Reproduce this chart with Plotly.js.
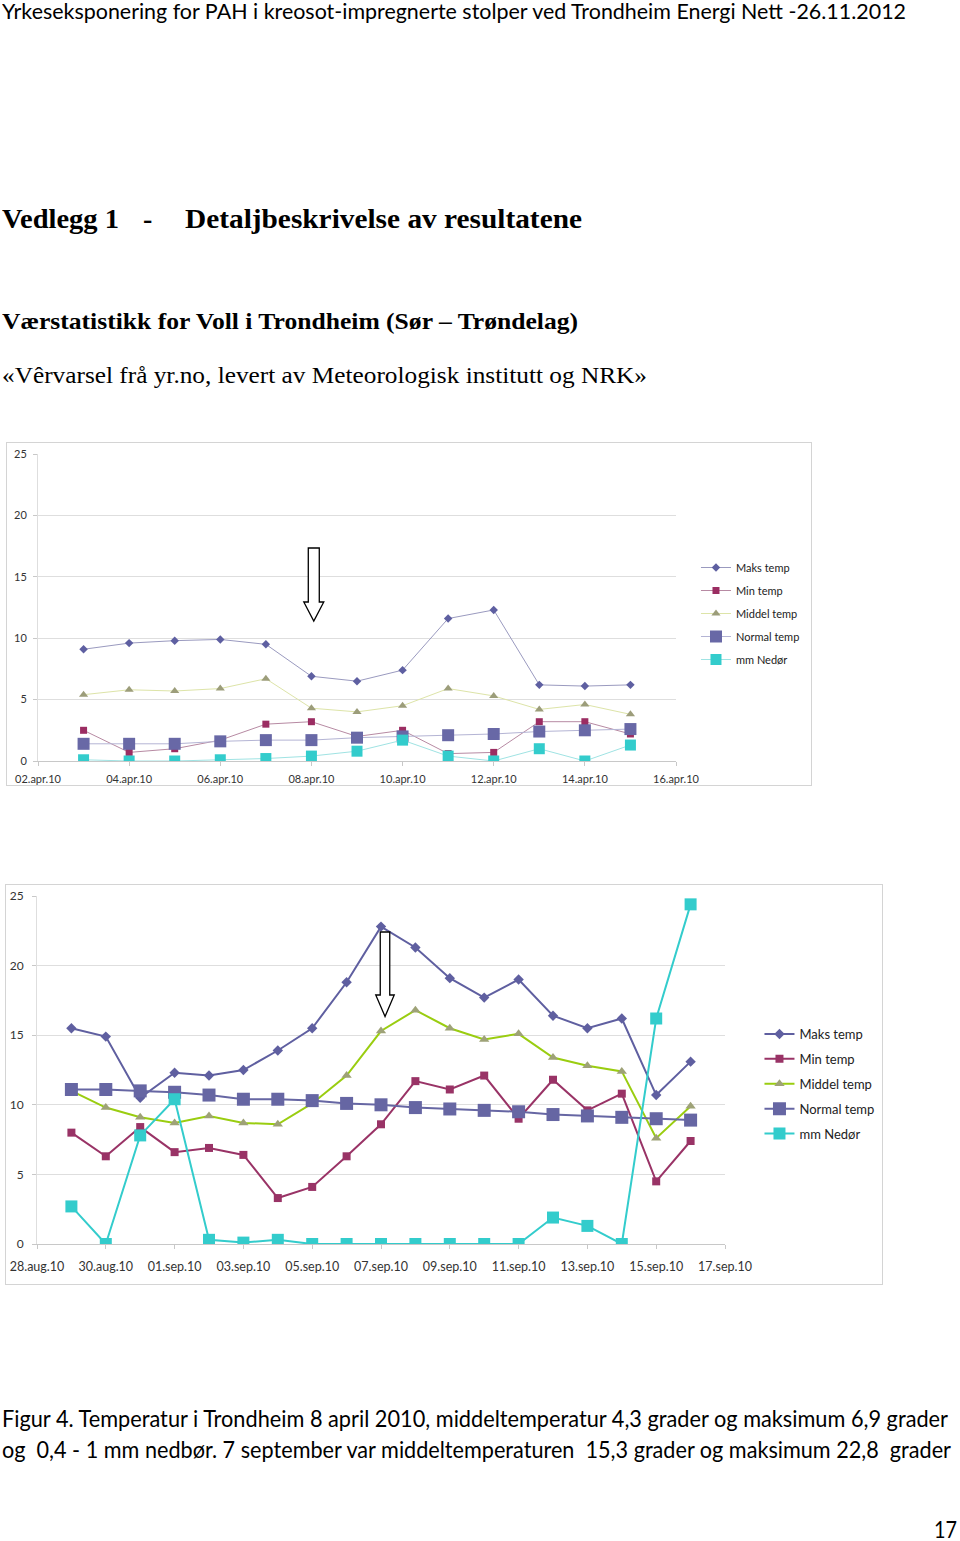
<!DOCTYPE html>
<html>
<head>
<meta charset="utf-8">
<script src="https://cdn.plot.ly/plotly-3.0.1.min.js"></script>
<style>
  html, body { margin: 0; padding: 0; background: #fff; }
  body { width: 960px; height: 1541px; position: relative; overflow: hidden; }
  .t { position: absolute; white-space: nowrap; line-height: 1; color: #000; transform-origin: 0 0; }
  .sans { font-family: Lato, "Open Sans", sans-serif; }
  .serif { font-family: "Liberation Serif", "DejaVu Serif", serif; }
  .frame { position: absolute; border: 1px solid #d4d4d4; box-sizing: border-box; background: #fff; }
  .plot { position: absolute; left: 0; top: 0; }
</style>
</head>
<body>
<div class="t sans" style="left:2px; top:0px; font-size:22px;" data-w="904">Yrkeseksponering for PAH i kreosot-impregnerte stolper ved Trondheim Energi Nett -26.11.2012</div>

<div class="t serif" style="left:2px; top:205px; font-size:28px; font-weight:bold;" data-w="117">Vedlegg 1</div>
<div class="t serif" style="left:143px; top:205px; font-size:28px; font-weight:bold;">-</div>
<div class="t serif" style="left:185px; top:205px; font-size:28px; font-weight:bold;" data-w="397">Detaljbeskrivelse av resultatene</div>

<div class="t serif" style="left:2px; top:309px; font-size:24px; font-weight:bold;" data-w="576">Værstatistikk for Voll i Trondheim (Sør – Trøndelag)</div>
<div class="t serif" style="left:2px; top:363px; font-size:24px;" data-w="645">«Vêrvarsel frå yr.no, levert av Meteorologisk institutt og NRK»</div>

<div class="frame" style="left:6px; top:442px; width:806px; height:344px;"><div id="c1" class="plot"></div></div>
<div class="frame" style="left:5px; top:884px; width:878px; height:401px;"><div id="c2" class="plot"></div></div>

<div class="t sans" style="left:2px; top:1406px; font-size:24px;" data-w="946">Figur 4. Temperatur i Trondheim 8 april 2010, middeltemperatur 4,3 grader og maksimum 6,9 grader</div>
<div class="t sans" style="left:2px; top:1437px; font-size:24px; white-space:pre;" data-w="949">og  0,4 - 1 mm nedbør. 7 september var middeltemperaturen  15,3 grader og maksimum 22,8  grader</div>
<div class="t sans" style="left:934px; top:1517px; font-size:24px;" data-w="23">17</div>

<script>
// ---------------- data: chart 1 (April 2010) ----------------
const dates1 = ['2010-04-03','2010-04-04','2010-04-05','2010-04-06','2010-04-07','2010-04-08','2010-04-09',
                '2010-04-10','2010-04-11','2010-04-12','2010-04-13','2010-04-14','2010-04-15'];
const maks1   = [9.1, 9.6, 9.8, 9.9, 9.5, 6.9, 6.5, 7.4, 11.6, 12.3, 6.2, 6.1, 6.2];
const min1    = [2.5, 0.7, 1.0, 1.7, 3.0, 3.2, 2.0, 2.5, 0.6, 0.7, 3.2, 3.2, 2.2];
const middel1 = [5.4, 5.8, 5.7, 5.9, 6.7, 4.3, 4.0, 4.5, 5.9, 5.3, 4.2, 4.6, 3.8];
const normal1 = [1.4, 1.4, 1.4, 1.6, 1.7, 1.7, 1.9, 2.0, 2.1, 2.2, 2.4, 2.5, 2.6];
const nedor1  = [0.1, 0.0, 0.0, 0.1, 0.2, 0.4, 0.8, 1.7, 0.4, 0.0, 1.0, 0.0, 1.3];
const tickvals1 = ['2010-04-02','2010-04-04','2010-04-06','2010-04-08','2010-04-10','2010-04-12','2010-04-14','2010-04-16'];
const ticktext1 = ['02.apr.10','04.apr.10','06.apr.10','08.apr.10','10.apr.10','12.apr.10','14.apr.10','16.apr.10'];

// ---------------- data: chart 2 (Aug-Sep 2010) ----------------
const dates2 = ['2010-08-29','2010-08-30','2010-08-31','2010-09-01','2010-09-02','2010-09-03','2010-09-04',
                '2010-09-05','2010-09-06','2010-09-07','2010-09-08','2010-09-09','2010-09-10','2010-09-11',
                '2010-09-12','2010-09-13','2010-09-14','2010-09-15','2010-09-16'];
const maks2   = [15.5, 14.9, 10.5, 12.3, 12.1, 12.5, 13.9, 15.5, 18.8, 22.8, 21.3, 19.1, 17.7, 19.0, 16.4, 15.5, 16.2, 10.7, 13.1];
const min2    = [8.0, 6.3, 8.4, 6.6, 6.9, 6.4, 3.3, 4.1, 6.3, 8.6, 11.7, 11.1, 12.1, 9.0, 11.8, 9.6, 10.8, 4.5, 7.4];
const middel2 = [11.0, 9.8, 9.1, 8.7, 9.2, 8.7, 8.6, 10.1, 12.1, 15.3, 16.8, 15.5, 14.7, 15.1, 13.4, 12.8, 12.4, 7.6, 9.9];
const normal2 = [11.1, 11.1, 11.0, 10.9, 10.7, 10.4, 10.4, 10.3, 10.1, 10.0, 9.8, 9.7, 9.6, 9.5, 9.3, 9.2, 9.1, 9.0, 8.9];
const nedor2  = [2.7, 0.0, 7.8, 10.4, 0.3, 0.1, 0.3, 0.0, 0.0, 0.0, 0.0, 0.0, 0.0, 0.0, 1.9, 1.3, 0.0, 16.2, 24.4];
const tickvals2 = ['2010-08-28','2010-08-30','2010-09-01','2010-09-03','2010-09-05','2010-09-07','2010-09-09',
                   '2010-09-11','2010-09-13','2010-09-15','2010-09-17'];
const ticktext2 = ['28.aug.10','30.aug.10','01.sep.10','03.sep.10','05.sep.10','07.sep.10','09.sep.10',
                   '11.sep.10','13.sep.10','15.sep.10','17.sep.10'];

const seriesNames = ['Maks temp','Min temp','Middel temp','Normal temp','mm Nedør'];
const yTicks = [0, 5, 10, 15, 20, 25];

// fit text widths
document.querySelectorAll('[data-w]').forEach(el => {
  const w = el.getBoundingClientRect().width;
  const target = parseFloat(el.getAttribute('data-w'));
  el.style.transform = 'scaleX(' + (target / w) + ')';
});

const FONT = 'Lato, "Open Sans", sans-serif';

function mkTrace(x, y, name, i, lineColor, lineWidth, mColor, mSymbol, mSize) {
  return {
    type: 'scatter', mode: 'lines+markers', x: x, y: y, name: name,
    legendgroup: 'g' + i,
    line: { color: lineColor, width: lineWidth },
    marker: { color: mColor, symbol: mSymbol, size: mSize, line: { width: 0 } },
    hoverinfo: 'skip'
  };
}

// ---------- chart 1 ----------
(function () {
  const W = 804, H = 342;
  const L = 30.5, R = 135, T = 11, B = 24;
  const pw = W - L - R, ph = H - T - B;
  const colors = {
    maksM: '#5e5fa1', maksL: '#9a9abf',
    minM: '#9b2d62', minL: '#b78aa3',
    midM: '#9c9d7a', midL: '#dde4a8',
    norM: '#6868a6', norL: '#b4b4d4',
    nedM: '#33cccc', nedL: '#9fe3e3'
  };
  const traces = [
    mkTrace(dates1, maks1, seriesNames[0], 0, colors.maksL, 1, colors.maksM, 'diamond', 6.5),
    mkTrace(dates1, min1, seriesNames[1], 1, colors.minL, 1, colors.minM, 'square', 7),
    mkTrace(dates1, middel1, seriesNames[2], 2, colors.midL, 1, colors.midM, 'triangle-up', 8),
    mkTrace(dates1, normal1, seriesNames[3], 3, colors.norL, 1, colors.norM, 'square', 12),
    mkTrace(dates1, nedor1, seriesNames[4], 4, colors.nedL, 1, colors.nedM, 'square', 11)
  ];
  const ox = 7, oy = 443;
  const px = x => (x - ox - L) / pw;
  const py = y => 1 - (y - oy - T) / ph;
  const pts = [[308,548],[319,548],[319,602],[323.5,602],[313.5,621],[303.5,602],[308,602]];
  const path = 'M ' + pts.map(p => px(p[0]).toFixed(5) + ',' + py(p[1]).toFixed(5)).join(' L ') + ' Z';
  const layout = {
    width: W, height: H,
    margin: { l: L, r: R, t: T, b: B, pad: 0, autoexpand: false },
    paper_bgcolor: '#fff', plot_bgcolor: '#fff',
    font: { family: FONT, size: 11, color: '#333' },
    showlegend: true,
    legend: { x: (696 - ox - L) / pw, xanchor: 'left', y: py(553), yanchor: 'top',
              font: { family: FONT, size: 11, color: '#222' }, tracegroupgap: 4,
              bgcolor: 'rgba(0,0,0,0)', borderwidth: 0, itemwidth: 30 },
    xaxis: {
      type: 'date', range: ['2010-04-02', '2010-04-16'],
      tickmode: 'array', tickvals: tickvals1, ticktext: ticktext1,
      showgrid: false, zeroline: false, showline: true, linecolor: '#c8c8c8', linewidth: 1,
      ticks: 'outside', ticklen: 4, tickcolor: '#c8c8c8', ticklabelstandoff: 4,
      tickfont: { family: FONT, size: 11, color: '#333' }
    },
    yaxis: {
      range: [0, 25], tickmode: 'array', tickvals: yTicks,
      showgrid: true, gridcolor: '#dedede', gridwidth: 1, zeroline: false,
      showline: true, linecolor: '#dedede', ticks: 'outside', ticklen: 4, tickcolor: '#c8c8c8',
      ticklabelstandoff: 4,
      tickfont: { family: FONT, size: 11, color: '#333' }
    },
    shapes: [{ type: 'path', xref: 'paper', yref: 'paper', path: path,
               fillcolor: '#fff', line: { color: '#000', width: 1.3 } }]
  };
  Plotly.newPlot('c1', traces, layout, { displayModeBar: false, staticPlot: true });
})();

// ---------- chart 2 ----------
(function () {
  const W = 876, H = 399;
  const L = 31, R = 156.5, T = 11, B = 40;
  const pw = W - L - R, ph = H - T - B;
  const c = {
    maks: '#5f5fa0', min: '#993366', midL: '#9acd10', midM: '#9ea277', nor: '#6666a3', ned: '#33cccc'
  };
  const traces = [
    mkTrace(dates2, maks2, seriesNames[0], 0, c.maks, 2, c.maks, 'diamond', 8),
    mkTrace(dates2, min2, seriesNames[1], 1, c.min, 2, c.min, 'square', 8),
    mkTrace(dates2, middel2, seriesNames[2], 2, c.midL, 2, c.midM, 'triangle-up', 9),
    mkTrace(dates2, normal2, seriesNames[3], 3, c.nor, 2, c.nor, 'square', 13),
    mkTrace(dates2, nedor2, seriesNames[4], 4, c.ned, 2, c.ned, 'square', 12)
  ];
  const ox = 6, oy = 885;
  const px = x => (x - ox - L) / pw;
  const py = y => 1 - (y - oy - T) / ph;
  const pts = [[380.5,932],[390,932],[390,995],[394.5,995],[385.3,1016.5],[376,995],[380.5,995]];
  const path = 'M ' + pts.map(p => px(p[0]).toFixed(5) + ',' + py(p[1]).toFixed(5)).join(' L ') + ' Z';
  const layout = {
    width: W, height: H,
    margin: { l: L, r: R, t: T, b: B, pad: 0, autoexpand: false },
    paper_bgcolor: '#fff', plot_bgcolor: '#fff',
    font: { family: FONT, size: 12, color: '#333' },
    showlegend: true,
    legend: { x: (760 - ox - L) / pw, xanchor: 'left', y: py(1019), yanchor: 'top',
              font: { family: FONT, size: 13, color: '#222' }, tracegroupgap: 5,
              bgcolor: 'rgba(0,0,0,0)', borderwidth: 0, itemwidth: 30 },
    xaxis: {
      type: 'date', range: ['2010-08-28', '2010-09-17'],
      tickmode: 'array', tickvals: tickvals2, ticktext: ticktext2,
      showgrid: false, zeroline: false, showline: true, linecolor: '#c8c8c8', linewidth: 1,
      ticks: 'outside', ticklen: 4, tickcolor: '#c8c8c8', ticklabelstandoff: 7,
      tickfont: { family: FONT, size: 12.5, color: '#333' }
    },
    yaxis: {
      range: [0, 25], tickmode: 'array', tickvals: yTicks,
      showgrid: true, gridcolor: '#dedede', gridwidth: 1, zeroline: false,
      showline: true, linecolor: '#dedede', ticks: 'outside', ticklen: 4, tickcolor: '#c8c8c8',
      ticklabelstandoff: 6,
      tickfont: { family: FONT, size: 12, color: '#333' }
    },
    shapes: [{ type: 'path', xref: 'paper', yref: 'paper', path: path,
               fillcolor: '#fff', line: { color: '#000', width: 1.3 } }]
  };
  Plotly.newPlot('c2', traces, layout, { displayModeBar: false, staticPlot: true });
})();
</script>
</body>
</html>
